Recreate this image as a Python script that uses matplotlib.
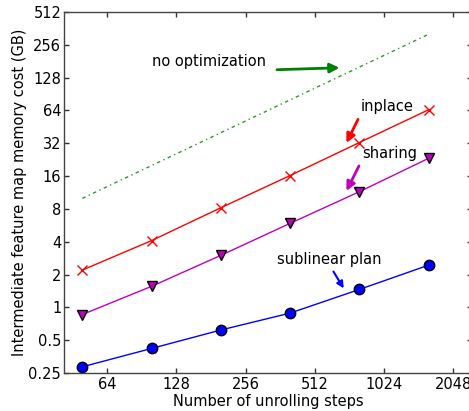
import matplotlib
matplotlib.use("Agg")
import matplotlib.pyplot as plt
from matplotlib.ticker import FixedLocator, FixedFormatter, NullLocator

steps = [50, 100, 200, 400, 800, 1600]
no_opt = [10, 20, 40, 80, 160, 320]
inplace = [2.2, 4.1, 8.2, 16.2, 32.5, 65]
sharing = [0.86, 1.56, 3.0, 5.9, 11.5, 23.3]
sublinear = [0.285, 0.42, 0.62, 0.886, 1.46, 2.44]

xticks = [64, 128, 256, 512, 1024, 2048]
xticklabels = ["64", "128", "256", "512", "1024", "2048"]
yticks = [0.25, 0.5, 1, 2, 4, 8, 16, 32, 64, 128, 256, 512]
yticklabels = ["0.25", "0.5", "1", "2", "4", "8", "16", "32", "64", "128", "256", "512"]

plt.rcParams['font.family'] = ['DejaVu Sans']
fig = plt.figure(figsize=(4.69, 4.11), dpi=100)
W, H = 469, 411
ax = fig.add_axes([64 / W, (H - 373) / H, (472 - 64) / W, (373 - 12) / H])

ax.set_xscale('log', base=2)
ax.set_yscale('log', base=2)

ax.plot(steps, no_opt, color='#2e9a2e', lw=1.0, dashes=[2.5, 2.5, 1, 2.5])
ax.plot(steps, inplace, '-x', color='red', lw=1.0, markersize=7.5, markeredgewidth=1.0)
ax.plot(steps, sharing, '-v', color='m', lw=1.0, markersize=7.5,
        markerfacecolor='#bf00bf', markeredgecolor='black', markeredgewidth=1.0)
ax.plot(steps, sublinear, '-o', color='blue', lw=1.0, markersize=7.5,
        markerfacecolor='blue', markeredgecolor='black', markeredgewidth=1.0)

ax.set_xlim(41.6, 2470)
ax.set_ylim(0.25, 512)

ax.xaxis.set_major_locator(FixedLocator(xticks))
ax.xaxis.set_major_formatter(FixedFormatter(xticklabels))
ax.yaxis.set_major_locator(FixedLocator(yticks))
ax.yaxis.set_major_formatter(FixedFormatter(yticklabels))
ax.xaxis.set_minor_locator(NullLocator())
ax.yaxis.set_minor_locator(NullLocator())

ax.tick_params(which='major', direction='in', length=3.5, width=1.0, color='#333333',
               top=True, right=True, labelsize=10.5, pad=3)
ax.tick_params(axis='y', pad=2)
for s in ax.spines.values():
    s.set_color('#444444')
    s.set_linewidth(1.0)

ax.set_xlabel("Number of unrolling steps", fontsize=10.5, labelpad=1)
ax.set_ylabel("Intermediate feature map memory cost (GB)", fontsize=10.5, labelpad=1)

fs = 10.5
ax.text(100, 165, "no optimization", fontsize=fs, va='baseline', ha='left')
ax.annotate('', xy=(674, 158), xytext=(341, 151),
            arrowprops=dict(arrowstyle='-|>', color='green', lw=2, mutation_scale=14))
ax.text(807, 62.9, "inplace", fontsize=fs, va='baseline', ha='left')
ax.annotate('', xy=(694, 30.6), xytext=(799, 55.9),
            arrowprops=dict(arrowstyle='-|>', color='red', lw=2, mutation_scale=13))
ax.text(821, 23.6, "sharing", fontsize=fs, va='baseline', ha='left')
ax.annotate('', xy=(694, 11.1), xytext=(807, 20.9),
            arrowprops=dict(arrowstyle='-|>', color='m', lw=2, mutation_scale=13))
ax.text(350, 2.49, "sublinear plan", fontsize=fs, va='baseline', ha='left')
ax.annotate('', xy=(694, 1.42), xytext=(608, 2.24),
            arrowprops=dict(arrowstyle='-|>', color='blue', lw=1.5, mutation_scale=10))

fig.savefig("out.png", dpi=100)
